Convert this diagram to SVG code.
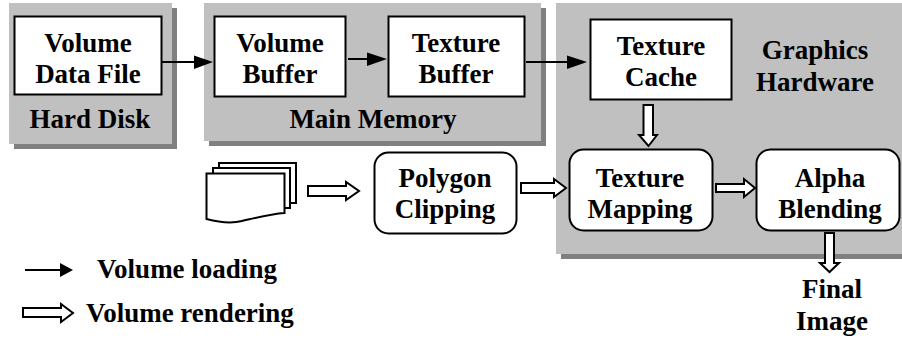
<svg xmlns="http://www.w3.org/2000/svg" width="902" height="340" viewBox="0 0 902 340">
<style>
text{font-family:"Liberation Serif","Times New Roman",serif;font-weight:700;font-size:27px;fill:#000;text-anchor:middle}
.p{fill:#c0c0c0}.s{fill:#808080}
.b{fill:#fff;stroke:#000;stroke-width:2}
.l{fill:none;stroke:#000;stroke-width:2}
.h{fill:#000}
.o{fill:#fff;stroke:#000;stroke-width:2}
</style>
<g id="panel-hard-disk"><rect class="s" x="14" y="8" width="163" height="141"/><rect class="p" x="9" y="3" width="163" height="141"/><text x="90" y="128">Hard Disk</text></g>
<g id="panel-main-memory"><rect class="s" x="209" y="8" width="337" height="138"/><rect class="p" x="204" y="3" width="337" height="138"/><text x="373" y="128">Main Memory</text></g>
<g id="panel-graphics"><rect class="s" x="561" y="8" width="341" height="251"/><rect class="p" x="556" y="3" width="346" height="251"/><text x="815" y="59">Graphics</text><text x="815" y="91">Hardware</text></g>
<g id="volume-data-file"><rect class="b" x="14.500" y="16.500" width="147" height="78"/><text x="88" y="52">Volume</text><text x="88" y="83">Data File</text></g>
<g id="volume-buffer"><rect class="b" x="214.500" y="16.500" width="131" height="80"/><text x="280" y="52">Volume</text><text x="280" y="83">Buffer</text></g>
<g id="texture-buffer"><rect class="b" x="388.500" y="16.500" width="136" height="80"/><text x="456" y="52">Texture</text><text x="456" y="83">Buffer</text></g>
<g id="texture-cache"><rect class="b" x="590.500" y="19.500" width="141" height="80"/><text x="661" y="55">Texture</text><text x="661" y="86">Cache</text></g>
<g id="documents">
<rect class="b" x="219" y="163" width="77" height="40"/>
<rect class="b" x="213" y="168" width="77" height="40"/>
<path class="b" d="M206.500 173.500H284.500V213C270 214 255 218 242 221C230 224 218 222 206.500 219Z"/>
</g>
<g id="polygon-clipping"><rect class="b" x="374.500" y="152.500" width="142" height="81" rx="14"/><text x="445" y="187">Polygon</text><text x="445" y="218">Clipping</text></g>
<g id="texture-mapping"><rect class="b" x="569.500" y="149.500" width="143" height="81" rx="14"/><text x="640" y="187">Texture</text><text x="640" y="218">Mapping</text></g>
<g id="alpha-blending"><rect class="b" x="756.500" y="149.500" width="143" height="81" rx="14"/><text x="830" y="187">Alpha</text><text x="830" y="218">Blending</text></g>
<g id="final-image"><text x="832" y="298">Final</text><text x="832" y="330">Image</text></g>
<g id="connectors">
<path class="l" d="M162 62H195"/><path class="h" d="M194 55.500L213 62L194 69Z"/>
<path class="l" d="M348 59H369"/><path class="h" d="M367 52.500L387 59L367 66Z"/>
<path class="l" d="M526 62H570"/><path class="h" d="M567 55.500L587 62L567 69Z"/>
<path class="o" d="M308 186H346V182L359 191L346 200V196H308Z"/>
<path class="o" d="M521 183H554V179L566 188L554 197V193H521Z"/>
<path class="o" d="M716 184H744V179L755 188L744 197V192H716Z"/>
<path class="o" d="M643.500 105H653V135H657L648.500 146L639 135H643.500Z"/>
<path class="o" d="M825 233H834V263H839L829.500 272L820 263H825Z"/>
<path class="l" d="M25 270H62"/><path class="h" d="M60 263L73 270L60 277Z"/>
<path class="o" d="M23 308H61V304L73 313L61 322V317H23Z"/>
</g>
<g id="legend"><text x="187" y="278">Volume loading</text><text x="190" y="322">Volume rendering</text></g>
</svg>
